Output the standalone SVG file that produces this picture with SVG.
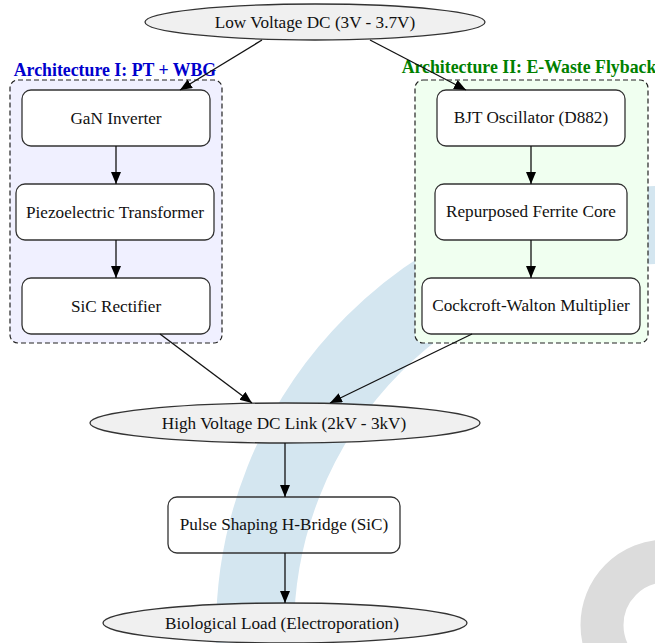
<svg xmlns="http://www.w3.org/2000/svg" width="655" height="643" viewBox="0 0 655 643">
<style>
  text { font-family: "Liberation Serif", "Times New Roman", serif; font-size: 17.2px; fill: #111; text-anchor: middle; }
  .lbl { font-weight: bold; font-size: 17.8px; }
  .box { fill: #ffffff; stroke: #333; stroke-width: 1.3; }
  .ell { fill: #f0f0f0; stroke: #333; stroke-width: 1.3; }
  .edge { fill: none; stroke: #111; stroke-width: 1.3; marker-end: url(#arr); }
  .cl { stroke: #222; stroke-width: 1.2; stroke-dasharray: 5,3; }
</style>
<defs>
  <marker id="arr" markerUnits="userSpaceOnUse" markerWidth="13" markerHeight="11" refX="12" refY="5" orient="auto">
    <path d="M0,0 L12,5 L0,10 z" fill="#000"/>
  </marker>
</defs>
<rect width="655" height="643" fill="#ffffff"/>
<g id="background">
  <circle cx="661" cy="631" r="406" fill="none" stroke="#d4e6f0" stroke-width="78"/>
  <circle cx="666" cy="625" r="64" fill="none" stroke="#dcdcdc" stroke-width="43"/>
</g>
<g id="cluster_I">
  <rect class="cl" x="10" y="80" width="212" height="263" rx="8" fill="#f0f0ff"/>
  <text class="lbl" x="115" y="76" style="fill:#0000cd">Architecture I: PT + WBG</text>
</g>
<g id="cluster_II">
  <rect class="cl" x="415" y="80" width="233" height="263" rx="8" fill="#f0fff0"/>
  <text class="lbl" x="529" y="73" style="fill:#008000">Architecture II: E-Waste Flyback</text>
</g>
<g id="n_lv">
  <ellipse class="ell" cx="315" cy="22" rx="170" ry="18"/>
  <text x="315" y="28">Low Voltage DC (3V - 3.7V)</text>
</g>
<g id="n_gan">
  <rect class="box" x="22" y="90" width="188" height="56" rx="9"/>
  <text x="116" y="124">GaN Inverter</text>
</g>
<g id="n_pt">
  <rect class="box" x="16" y="184" width="198" height="56" rx="9"/>
  <text x="115" y="218">Piezoelectric Transformer</text>
</g>
<g id="n_sic">
  <rect class="box" x="22" y="278" width="188" height="56" rx="9"/>
  <text x="116" y="312">SiC Rectifier</text>
</g>
<g id="n_bjt">
  <rect class="box" x="437" y="90" width="188" height="56" rx="9"/>
  <text x="531" y="123">BJT Oscillator (D882)</text>
</g>
<g id="n_fer">
  <rect class="box" x="435" y="184" width="192" height="56" rx="9"/>
  <text x="531" y="217">Repurposed Ferrite Core</text>
</g>
<g id="n_cw">
  <rect class="box" x="422" y="278" width="218" height="56" rx="9"/>
  <text x="531" y="311">Cockcroft-Walton Multiplier</text>
</g>
<g id="n_hv">
  <ellipse class="ell" cx="285" cy="423" rx="195" ry="20"/>
  <text x="284" y="429">High Voltage DC Link (2kV - 3kV)</text>
</g>
<g id="n_ps">
  <rect x="168" y="497" width="232" height="56" rx="9" fill="none" stroke="#333" stroke-width="1.3"/>
  <text x="284" y="530">Pulse Shaping H-Bridge (SiC)</text>
</g>
<g id="n_bio">
  <ellipse class="ell" cx="285" cy="623" rx="182" ry="20"/>
  <text x="282" y="629">Biological Load (Electroporation)</text>
</g>
<g id="edges">
  <line class="edge" x1="262" y1="40" x2="180" y2="90"/>
  <line class="edge" x1="370" y1="40" x2="466" y2="90"/>
  <line class="edge" x1="116" y1="146" x2="116" y2="184"/>
  <line class="edge" x1="116" y1="240" x2="116" y2="278"/>
  <line class="edge" x1="531" y1="146" x2="531" y2="184"/>
  <line class="edge" x1="531" y1="240" x2="531" y2="278"/>
  <line class="edge" x1="160" y1="334" x2="252" y2="403"/>
  <line class="edge" x1="472" y1="334" x2="330" y2="403"/>
  <line class="edge" x1="285" y1="443" x2="285" y2="497"/>
  <line class="edge" x1="285" y1="553" x2="285" y2="603"/>
</g>
</svg>
